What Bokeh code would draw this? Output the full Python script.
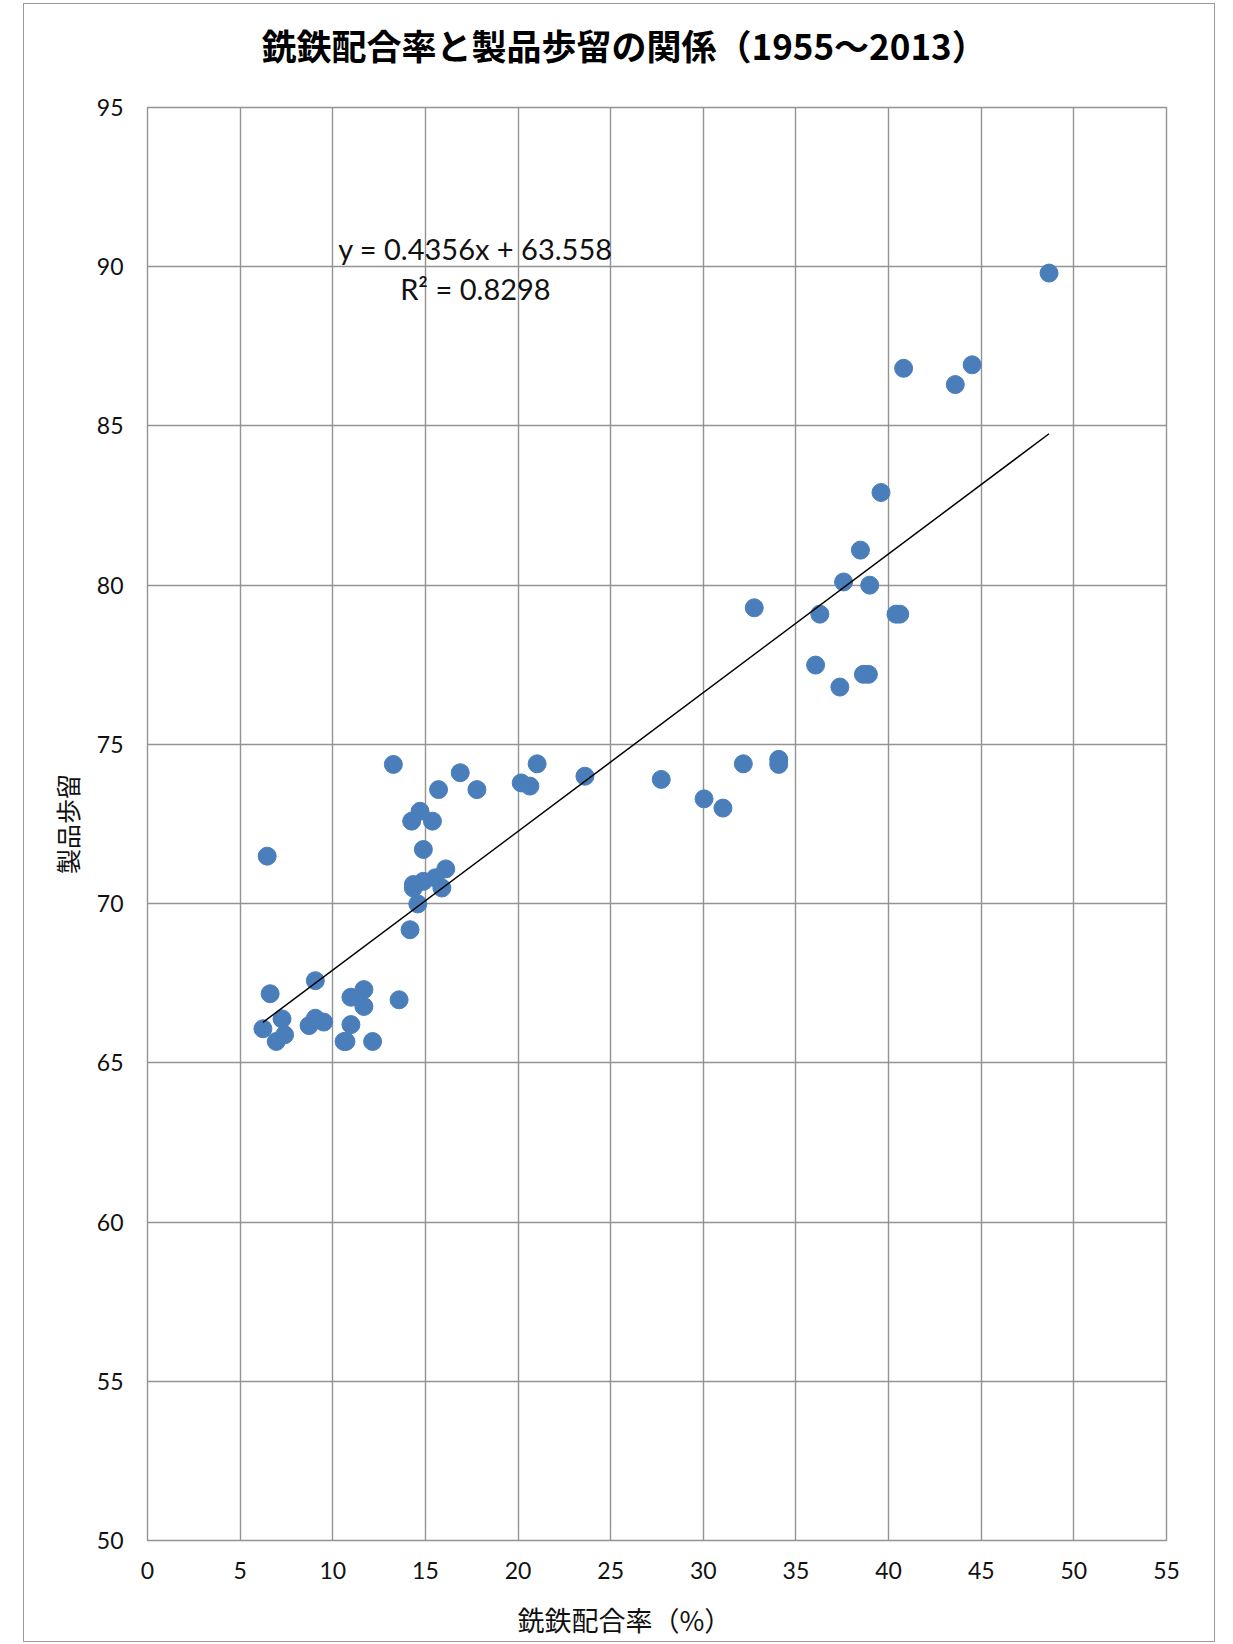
from bokeh.plotting import figure
from bokeh.models import Label, FixedTicker, Range1d, Title
from bokeh.embed import file_html
from bokeh.resources import INLINE

# ---- data ----
pig_iron_ratio = [48.66, 40.81, 43.60, 44.51, 39.59, 38.48, 37.57, 38.98, 32.75, 36.29,
                  40.40, 40.60, 36.06, 37.37, 38.64, 38.91, 34.07, 34.07, 32.16, 30.04,
                  31.06, 27.73, 23.61, 21.03, 20.17, 20.64, 17.78, 16.88, 15.71, 13.27,
                  14.71, 14.26, 15.38, 14.89, 16.10, 15.53, 14.89, 14.35, 14.35, 15.89,
                  14.59, 14.17, 6.46, 6.62, 9.06, 10.98, 11.68, 11.68, 13.58, 6.23,
                  7.26, 6.95, 7.40, 8.72, 9.06, 9.51, 10.98, 10.61, 10.71, 12.15]
product_yield = [89.80, 86.81, 86.30, 86.92, 82.91, 81.10, 80.10, 80.00, 79.29, 79.09,
                 79.09, 79.09, 77.49, 76.80, 77.20, 77.20, 74.53, 74.37, 74.39, 73.29,
                 73.00, 73.90, 74.00, 74.39, 73.79, 73.69, 73.58, 74.11, 73.58, 74.37,
                 72.90, 72.59, 72.59, 71.70, 71.09, 70.81, 70.70, 70.60, 70.49, 70.49,
                 69.99, 69.18, 71.49, 67.17, 67.58, 67.06, 67.30, 66.77, 66.98, 66.07,
                 66.38, 65.67, 65.88, 66.17, 66.40, 66.28, 66.20, 65.67, 65.67, 65.67]
x_ticks = [0, 5, 10, 15, 20, 25, 30, 35, 40, 45, 50, 55]
y_ticks = [50, 55, 60, 65, 70, 75, 80, 85, 90, 95]
trend_slope = 0.4356
trend_intercept = 63.558
trend_r2 = 0.8298
title_text = "銑鉄配合率と製品歩留の関係（1955～2013）"
x_label = "銑鉄配合率（%）"
y_label = "製品歩留"

GRID = "#939393"

p = figure(width=1192, height=1639, title=None,
           x_range=Range1d(0, 55), y_range=Range1d(50, 95),
           output_backend="svg", toolbar_location=None,
           min_border_left=123, min_border_right=50,
           min_border_top=103, min_border_bottom=103)
p.styles = {"border": "1px solid #9a9a9a", "margin-left": "23px", "margin-top": "3px"}
p.background_fill_color = "white"
p.border_fill_color = "white"
p.outline_line_color = GRID
p.outline_line_width = 1.4

for ax, ticks in ((p.xaxis, x_ticks), (p.yaxis, y_ticks)):
    ax.ticker = FixedTicker(ticks=ticks)
    ax.axis_line_color = None
    ax.major_tick_line_color = None
    ax.minor_tick_line_color = None
    ax.major_tick_out = 0
    ax.major_tick_in = 0
    ax.major_label_text_font = "Lato"
    ax.major_label_text_font_size = "23px"
    ax.major_label_text_color = "#111111"
    ax.axis_label_text_font = "Noto Sans CJK JP"
    ax.axis_label_text_font_size = "25px"
    ax.axis_label_text_font_style = "normal"
    ax.axis_label_text_color = "#111111"

p.xaxis.major_label_standoff = 21
p.yaxis.major_label_standoff = 24
p.yaxis.axis_label = y_label
p.yaxis.axis_label_standoff = 9

# spacing titles (blank) so that the real titles sit where the reference has them
p.add_layout(Title(text=" ", text_font_size="1px", standoff=33), "above")
p.add_layout(Title(text=title_text, align="left", offset=114, vertical_align="top",
                   standoff=0, text_font="Noto Sans CJK JP", text_font_style="bold",
                   text_font_size="35px", text_color="#000000"), "above")

p.add_layout(Title(text=" ", text_font_size="1px", standoff=15), "below")
p.add_layout(Title(text=x_label, align="left", offset=370, vertical_align="top",
                   standoff=0, text_font="Noto Sans CJK JP", text_font_style="normal",
                   text_font_size="27px", text_color="#111111"), "below")

p.xgrid.ticker = FixedTicker(ticks=x_ticks)
p.ygrid.ticker = FixedTicker(ticks=y_ticks)
for g in (p.xgrid, p.ygrid):
    g.grid_line_color = GRID
    g.grid_line_width = 1.4

p.scatter(pig_iron_ratio, product_yield, size=18,
          fill_color="#4A7EBB", line_color="#4A7EBB", marker="circle")

x0, x1 = min(pig_iron_ratio), max(pig_iron_ratio)
p.line([x0, x1],
       [trend_slope * x0 + trend_intercept, trend_slope * x1 + trend_intercept],
       line_color="black", line_width=1.5)

p.add_layout(Label(x=17.70, y=90.56, text=f"y = {trend_slope}x + {trend_intercept}",
                   text_align="center", text_baseline="middle",
                   text_font="Lato", text_font_size="29px", text_color="#111111"))
p.add_layout(Label(x=17.70, y=89.31, text=f"R² = {trend_r2}",
                   text_align="center", text_baseline="middle",
                   text_font="Lato", text_font_size="29px", text_color="#111111"))

open("out.html", "w").write(file_html(p, INLINE))
